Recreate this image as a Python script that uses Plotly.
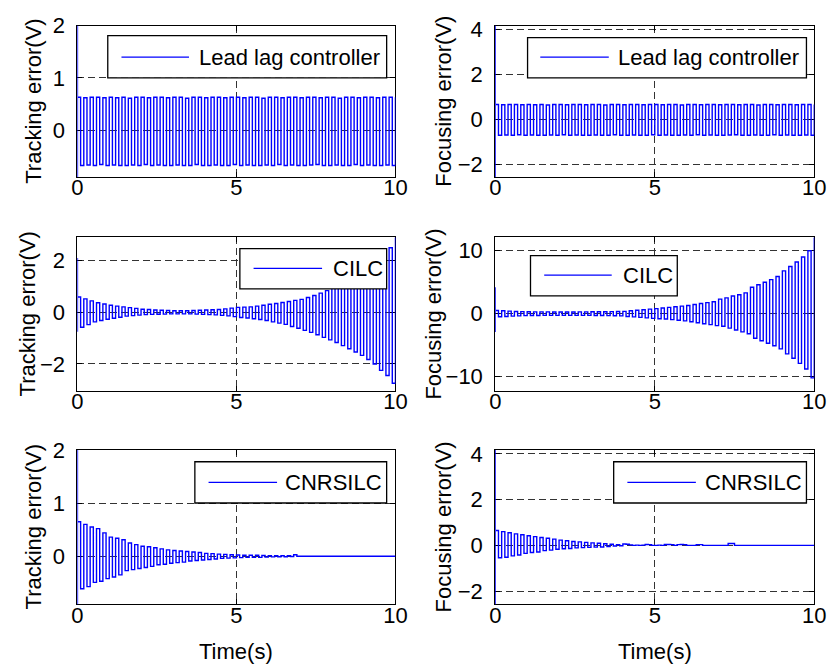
import plotly.graph_objects as go

W, H = 839, 666

# time grid of the oscillation peaks (s)
time_s = [round(0.1 * i, 1) for i in range(101)]
x_ticks = [0, 5, 10]

# signed oscillation peaks, one every 0.1 s (0 .. 10 s)
tracking_lead_lag = [
    0.63, -0.68, 0.62, -0.67, 0.63, -0.68, 0.63, -0.66, 0.62, -0.68,
    0.63, -0.67, 0.62, -0.68, 0.63, -0.68, 0.61, -0.67, 0.63, -0.68,
    0.63, -0.66, 0.62, -0.68, 0.63, -0.67, 0.63, -0.68, 0.62, -0.68,
    0.63, -0.67, 0.63, -0.68, 0.61, -0.68, 0.63, -0.66, 0.63, -0.68,
    0.62, -0.68, 0.63, -0.67, 0.63, -0.68, 0.62, -0.68, 0.63, -0.66,
    0.63, -0.68, 0.62, -0.67, 0.63, -0.68, 0.63, -0.68, 0.61, -0.67,
    0.63, -0.68, 0.63, -0.66, 0.62, -0.68, 0.63, -0.67, 0.63, -0.68,
    0.62, -0.68, 0.63, -0.67, 0.63, -0.66, 0.62, -0.68, 0.63, -0.68,
    0.63, -0.67, 0.61, -0.68, 0.63, -0.68, 0.63, -0.66, 0.62, -0.68,
    0.63, -0.67, 0.63, -0.68, 0.62, -0.68, 0.63, -0.67, 0.63, -0.68,
    0.63,
]
focusing_lead_lag = [
    0.66, -0.71, 0.65, -0.70, 0.66, -0.71, 0.66, -0.69, 0.65, -0.71,
    0.66, -0.70, 0.65, -0.71, 0.66, -0.71, 0.64, -0.70, 0.66, -0.71,
    0.66, -0.69, 0.65, -0.71, 0.66, -0.70, 0.66, -0.71, 0.65, -0.71,
    0.66, -0.70, 0.66, -0.71, 0.64, -0.71, 0.66, -0.69, 0.66, -0.71,
    0.65, -0.71, 0.66, -0.70, 0.66, -0.71, 0.65, -0.71, 0.66, -0.69,
    0.66, -0.71, 0.65, -0.70, 0.66, -0.71, 0.66, -0.71, 0.64, -0.70,
    0.66, -0.71, 0.66, -0.69, 0.65, -0.71, 0.66, -0.70, 0.66, -0.71,
    0.65, -0.71, 0.66, -0.70, 0.66, -0.69, 0.65, -0.71, 0.66, -0.71,
    0.66, -0.70, 0.64, -0.71, 0.66, -0.71, 0.66, -0.69, 0.65, -0.71,
    0.66, -0.70, 0.66, -0.71, 0.65, -0.71, 0.66, -0.70, 0.66, -0.71,
    0.66,
]
tracking_cilc = [
    0.59, -0.58, 0.52, -0.48, 0.44, -0.37, 0.37, -0.32, 0.32, -0.27,
    0.27, -0.23, 0.24, -0.19, 0.21, -0.15, 0.18, -0.13, 0.15, -0.11,
    0.12, -0.09, 0.11, -0.08, 0.09, -0.075, 0.08, -0.07, 0.07, -0.06,
    0.06, -0.06, 0.06, -0.06, 0.06, -0.06, 0.07, -0.07, 0.08, -0.08,
    0.09, -0.09, 0.10, -0.10, 0.11, -0.12, 0.13, -0.14, 0.16, -0.17,
    0.19, -0.20, 0.20, -0.22, 0.21, -0.25, 0.24, -0.28, 0.27, -0.32,
    0.31, -0.37, 0.34, -0.42, 0.38, -0.47, 0.42, -0.55, 0.46, -0.62,
    0.50, -0.70, 0.57, -0.78, 0.65, -0.87, 0.74, -0.97, 0.84, -1.07,
    0.94, -1.17, 1.04, -1.29, 1.15, -1.41, 1.26, -1.54, 1.40, -1.67,
    1.55, -1.83, 1.75, -2.00, 1.98, -2.25, 2.25, -2.45, 2.50, -2.75,
    2.90,
]
focusing_cilc = [
    0.50, -0.50, 0.45, -0.45, 0.40, -0.40, 0.35, -0.35, 0.32, -0.32,
    0.30, -0.30, 0.28, -0.30, 0.28, -0.28, 0.28, -0.28, 0.27, -0.28,
    0.27, -0.27, 0.27, -0.27, 0.27, -0.27, 0.28, -0.28, 0.28, -0.28,
    0.29, -0.29, 0.30, -0.30, 0.30, -0.31, 0.32, -0.33, 0.33, -0.35,
    0.36, -0.45, 0.45, -0.52, 0.55, -0.60, 0.63, -0.67, 0.72, -0.75,
    0.80, -0.80, 0.90, -0.85, 1.00, -0.95, 1.10, -1.05, 1.20, -1.15,
    1.30, -1.30, 1.45, -1.45, 1.60, -1.60, 1.75, -1.75, 1.90, -1.90,
    2.30, -2.00, 2.50, -2.30, 2.80, -2.60, 3.00, -2.90, 3.30, -3.20,
    4.20, -3.90, 4.60, -4.30, 5.00, -4.70, 5.40, -5.10, 5.90, -5.60,
    6.80, -6.40, 7.50, -7.10, 8.20, -7.90, 9.00, -8.80, 10.00, -10.20,
    12.10,
]
tracking_cnrsilc = [
    0.65, -0.61, 0.60, -0.57, 0.55, -0.49, 0.52, -0.47, 0.44, -0.42,
    0.36, -0.39, 0.34, -0.35, 0.31, -0.27, 0.25, -0.25, 0.22, -0.23,
    0.19, -0.21, 0.18, -0.19, 0.16, -0.16, 0.14, -0.15, 0.12, -0.13,
    0.11, -0.12, 0.10, -0.11, 0.09, -0.09, 0.08, -0.08, 0.07, -0.07,
    0.055, -0.06, 0.05, -0.05, 0.04, -0.04, 0.035, -0.035, 0.03, -0.03,
    0.025, -0.025, 0.02, -0.02, 0.02, -0.02, 0.02, -0.02, 0.015, -0.015,
    0.012, -0.012, 0.01, -0.01, 0.01, -0.01, 0.01, -0.005, 0.03, 0.0,
    0.0, 0.0, 0.0, 0.0, 0.0, 0.0, 0.0, 0.0, 0.0, 0.0,
    0.0, 0.0, 0.0, 0.0, 0.0, 0.0, 0.0, 0.0, 0.0, 0.0,
    0.0, 0.0, 0.0, 0.0, 0.0, 0.0, 0.0, 0.0, 0.0, 0.0,
    0.0,
]
focusing_cnrsilc = [
    0.65, -0.54, 0.60, -0.52, 0.55, -0.46, 0.50, -0.42, 0.46, -0.35,
    0.42, -0.31, 0.38, -0.29, 0.34, -0.23, 0.31, -0.21, 0.27, -0.17,
    0.23, -0.15, 0.20, -0.14, 0.17, -0.11, 0.15, -0.10, 0.13, -0.09,
    0.11, -0.08, 0.09, -0.07, 0.07, -0.05, 0.05, -0.03, 0.03, -0.02,
    0.06, 0.05, 0.02, 0.0, 0.01, 0.0, 0.01, 0.04, 0.03, 0.0,
    0.0, 0.01, 0.0, 0.04, 0.04, 0.03, 0.0, 0.03, 0.04, 0.03,
    0.0, 0.0, 0.0, 0.03, 0.03, 0.0, 0.0, 0.0, 0.0, 0.0,
    0.0, 0.0, 0.0, 0.08, 0.08, 0.0, 0.0, 0.0, 0.0, 0.0,
    0.0, 0.0, 0.0, 0.0, 0.0, 0.0, 0.0, 0.0, 0.0, 0.0,
    0.0, 0.0, 0.0, 0.0, 0.0, 0.0, 0.0, 0.0, 0.0, 0.0,
    0.0,
]

# initial transient at t = 0 (extreme values of the first sample)
tracking_lead_lag_start = [2.5, -1.5]
focusing_lead_lag_start = [5.0, -3.5]
tracking_cilc_start = [2.1, -0.75]
focusing_cilc_start = [4.2, -2.9]
tracking_cnrsilc_start = [2.5, -1.2]
focusing_cnrsilc_start = [5.0, -3.5]

series_names = ["Lead lag controller", "Lead lag controller", "CILC", "CILC",
                "CNRSILC", "CNRSILC"]
y_labels = ["Tracking error(V)", "Focusing error(V)"] * 3
x_label = "Time(s)"
y_tick_sets = [[0, 1, 2], [-2, 0, 2, 4], [-2, 0, 2], [-10, 0, 10],
               [0, 1, 2], [-2, 0, 2, 4]]
y_ranges = [[-0.9, 2.0], [-2.57, 4.17], [-3.05, 2.92], [-12.3, 12.2],
            [-0.9, 2.0], [-2.57, 4.17]]
values = [tracking_lead_lag, focusing_lead_lag, tracking_cilc, focusing_cilc,
          tracking_cnrsilc, focusing_cnrsilc]
starts = [tracking_lead_lag_start, focusing_lead_lag_start, tracking_cilc_start,
          focusing_cilc_start, tracking_cnrsilc_start, focusing_cnrsilc_start]

# ---- layout geometry (pixels) ----
col_x = [(73, 398), (500, 826)]
row_y = [(14, 168), (229, 386), (446, 603)]
ytitle_x = [28, 447, 22, 437, 28, 447]
# legend boxes: (x0, x1, y0, y1, line_x0, line_x1, line_y, text_x)
legend_px = [
    (104, 389, 24, 67, 118, 187, 46, 195),
    (533, 818, 26, 67, 546, 616, 46, 623),
    (239, 389, 241, 282, 253, 323, 261, 332),
    (536, 686, 248, 289, 550, 619, 268, 628),
    (193, 389, 458, 500, 207, 277, 479, 283),
    (621, 818, 458, 500, 635, 705, 479, 712),
]

FONT = "Liberation Sans, Arial, Helvetica, sans-serif"
BLUE = "#0000FF"
FS = 22


def px_x(p):
    return p / W


def px_y(p):
    return 1 - p / H


fig = go.Figure()
layout = dict(
    width=W, height=H, margin=dict(l=0, r=0, t=0, b=0),
    paper_bgcolor="white", plot_bgcolor="white", showlegend=False,
    font=dict(family=FONT, size=FS, color="black"),
)
shapes, annotations = [], []

for k in range(6):
    r, c = divmod(k, 2)
    xa = "x" if k == 0 else f"x{k+1}"
    ya = "y" if k == 0 else f"y{k+1}"
    fig.add_trace(go.Scatter(
        x=[0.0, 0.0] + time_s, y=starts[k] + values[k], mode="lines",
        name=series_names[k], line=dict(color=BLUE, width=1.4, shape="hv"),
        xaxis=xa, yaxis=ya, hoverinfo="skip",
    ))
    x0, x1 = col_x[c]
    y0, y1 = row_y[r]
    common = dict(
        showline=True, linecolor="black", linewidth=1, mirror="ticks",
        ticks="inside", ticklen=5, tickcolor="black", tickwidth=1,
        showgrid=True, gridcolor="#333333", gridwidth=1, griddash="7px,4px",
        zeroline=False, tickfont=dict(family=FONT, size=FS, color="black"),
        layer="below traces", fixedrange=True,
    )
    layout["xaxis" if k == 0 else f"xaxis{k+1}"] = dict(
        common, domain=[px_x(x0), px_x(x1)], range=[0, 10],
        tickvals=x_ticks, anchor=ya, ticklabelstandoff=-9,
    )
    layout["yaxis" if k == 0 else f"yaxis{k+1}"] = dict(
        common, domain=[px_y(y1), px_y(y0)], range=y_ranges[k],
        tickvals=y_tick_sets[k], anchor=xa, ticklabelstandoff=7,
    )
    # y-axis title
    annotations.append(dict(
        text=y_labels[k], xref="paper", yref="paper",
        x=px_x(ytitle_x[k]), y=px_y((y0 + y1) / 2), textangle=-90,
        xanchor="center", yanchor="middle", showarrow=False,
        font=dict(family=FONT, size=FS, color="black"),
    ))
    if r == 2:
        annotations.append(dict(
            text=x_label, xref="paper", yref="paper",
            x=px_x((x0 + x1) / 2), y=px_y(651), xanchor="center",
            yanchor="middle", showarrow=False,
            font=dict(family=FONT, size=FS, color="black"),
        ))
    # legend box
    bx0, bx1, by0, by1, lx0, lx1, ly, tx = legend_px[k]
    shapes.append(dict(
        type="rect", xref="paper", yref="paper",
        x0=px_x(bx0), x1=px_x(bx1), y0=px_y(by1), y1=px_y(by0),
        fillcolor="white", line=dict(color="black", width=1.3), layer="above",
    ))
    shapes.append(dict(
        type="line", xref="paper", yref="paper",
        x0=px_x(lx0), x1=px_x(lx1), y0=px_y(ly), y1=px_y(ly),
        line=dict(color=BLUE, width=1.2), layer="above",
    ))
    annotations.append(dict(
        text=series_names[k], xref="paper", yref="paper",
        x=px_x(tx), y=px_y(ly), xanchor="left", yanchor="middle",
        showarrow=False, font=dict(family=FONT, size=FS, color="black"),
    ))

layout["shapes"] = shapes
layout["annotations"] = annotations
fig.update_layout(**layout)
fig.write_html("out.html")
